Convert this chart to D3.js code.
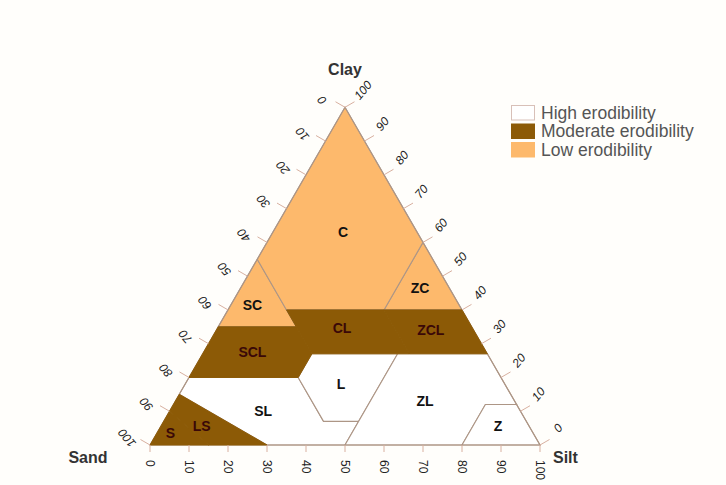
<!DOCTYPE html>
<html>
<head>
<meta charset="utf-8">
<script src="https://cdn.jsdelivr.net/npm/d3@7"></script>
<style>
  html, body { margin: 0; padding: 0; background: #fffefb; }
  svg { display: block; }
  text { font-family: "Liberation Sans", Arial, sans-serif; }
</style>
</head>
<body>
<svg id="chart" width="726" height="485"></svg>
<script>
// ---- data: USDA texture classes, vertices as [sand, silt, clay] (%)
const classNames = ["S", "LS", "SL", "L", "ZL", "Z", "SCL", "CL", "ZCL", "SC", "ZC", "C"];
const classErodibility = ["Moderate", "Moderate", "High", "High", "High", "High",
                          "Moderate", "Moderate", "Moderate", "Low", "Low", "Low"];
const classVertices = [
  [[100,0,0],[85,15,0],[90,0,10]],
  [[85,15,0],[70,30,0],[85,0,15],[90,0,10]],
  [[70,30,0],[50,50,0],[43,50,7],[52,41,7],[52,28,20],[80,0,20],[85,0,15]],
  [[43,50,7],[23,50,27],[45,28,27],[52,28,20],[52,41,7]],
  [[50,50,0],[20,80,0],[8,80,12],[0,88,12],[0,73,27],[23,50,27]],
  [[20,80,0],[0,100,0],[0,88,12],[8,80,12]],
  [[80,0,20],[52,28,20],[45,28,27],[45,20,35],[65,0,35]],
  [[45,28,27],[20,53,27],[20,40,40],[45,15,40]],
  [[20,53,27],[0,73,27],[0,60,40],[20,40,40]],
  [[65,0,35],[45,20,35],[45,0,55]],
  [[20,40,40],[0,60,40],[0,40,60]],
  [[45,0,55],[45,15,40],[20,40,40],[0,40,60],[0,0,100]]
];
// label anchor per class, [sand, silt, clay]
const classLabelPoints = [
  [93,3.5,3.5],[84,10.5,5.5],[66,24,10],[42,40,18],[23,64,13],[8,86.5,5.5],
  [60,12.5,27.5],[33.5,32,34.5],[11,55,34],[53,5.5,41.5],[7.5,46,46.5],[19,18,63]
];
const legendLabels = ["High erodibility", "Moderate erodibility", "Low erodibility"];
const legendKeys = ["High", "Moderate", "Low"];
const tickValues = [0,10,20,30,40,50,60,70,80,90,100];
const cornerLabels = ["Sand", "Silt", "Clay"];

// ---- styles
const fillColor = { High: "#ffffff", Moderate: "#8c5a06", Low: "#fdb96c" };
const lineColor = "#ad9686";
const tickColor = "#d8b0a0";

const svg = d3.select("#chart");

// scales: horizontal position from (silt + clay/2), vertical from clay
const xScale = d3.scaleLinear().domain([0, 100]).range([150, 540]);
const yScale = d3.scaleLinear().domain([0, 100]).range([445, 107.25]);
const px = p => xScale(p[1] + p[2] / 2);
const py = p => yScale(p[2]);
const line = d3.line().x(px).y(py).curve(d3.curveLinearClosed);

const classes = classNames.map((n, i) => ({
  name: n, erod: classErodibility[i], pts: classVertices[i], lab: classLabelPoints[i]
}));

// white and low regions with visible boundaries
svg.append("g").selectAll("path")
  .data(classes.filter(c => c.erod !== "Moderate"))
  .join("path")
  .attr("d", c => line(c.pts))
  .attr("fill", c => fillColor[c.erod])
  .attr("stroke", lineColor)
  .attr("stroke-width", 1.1);

// triangle outline
svg.append("path")
  .attr("d", line([[100,0,0],[0,100,0],[0,0,100]]))
  .attr("fill", "none")
  .attr("stroke", lineColor)
  .attr("stroke-width", 1.1);

// moderate regions (merged look)
svg.append("g").selectAll("path")
  .data(classes.filter(c => c.erod === "Moderate"))
  .join("path")
  .attr("d", c => line(c.pts))
  .attr("fill", fillColor.Moderate)
  .attr("stroke", fillColor.Moderate)
  .attr("stroke-width", 1);

// class labels
svg.append("g").selectAll("text")
  .data(classes)
  .join("text")
  .attr("x", c => px(c.lab))
  .attr("y", c => py(c.lab))
  .attr("text-anchor", "middle")
  .attr("dominant-baseline", "central")
  .attr("font-size", "14px")
  .attr("font-weight", "bold")
  .attr("fill", c => c.erod === "Moderate" ? "#3a0808" : "#111")
  .text(c => c.name);

// ---- axes
const axes = svg.append("g");
// bottom: silt
tickValues.forEach(v => {
  const p = [100 - v, v, 0];
  const x = px(p), y = py(p);
  axes.append("line").attr("x1", x).attr("y1", y).attr("x2", x).attr("y2", y + 7)
    .attr("stroke", tickColor);
  axes.append("text")
    .attr("transform", `translate(${x},${y + 15}) rotate(90)`)
    .attr("text-anchor", "start").attr("dominant-baseline", "central")
    .attr("font-size", "12px").attr("fill", "#222")
    .text(v);
});
// left: sand (0 at apex)
tickValues.forEach(v => {
  const p = [v, 0, 100 - v];
  const x = px(p), y = py(p);
  axes.append("line").attr("x1", x).attr("y1", y).attr("x2", x - 9.5).attr("y2", y - 5.5)
    .attr("stroke", tickColor);
  axes.append("text")
    .attr("transform", `translate(${x - 23},${y - 7}) rotate(-130)`)
    .attr("text-anchor", "middle").attr("dominant-baseline", "central")
    .attr("font-size", "12px").attr("font-style", "italic").attr("fill", "#222")
    .text(v);
});
// right: clay
tickValues.forEach(v => {
  const p = [0, 100 - v, v];
  const x = px(p), y = py(p);
  axes.append("line").attr("x1", x).attr("y1", y).attr("x2", x + 9.5).attr("y2", y - 5.5)
    .attr("stroke", tickColor);
  axes.append("text")
    .attr("transform", `translate(${x + 18},${y - 17}) rotate(-50)`)
    .attr("text-anchor", "middle").attr("dominant-baseline", "central")
    .attr("font-size", "12px").attr("font-style", "italic").attr("fill", "#222")
    .text(v);
});

// corner labels
const corners = [
  { p: [100,0,0], dx: -62, dy: 18, anchor: "middle" },
  { p: [0,100,0], dx: 13, dy: 18, anchor: "start" },
  { p: [0,0,100], dx: 0, dy: -32, anchor: "middle" }
];
svg.append("g").selectAll("text")
  .data(corners)
  .join("text")
  .attr("x", (c) => px(c.p) + c.dx)
  .attr("y", (c) => py(c.p) + c.dy)
  .attr("text-anchor", c => c.anchor)
  .attr("font-size", "16px").attr("font-weight", "bold").attr("fill", "#333")
  .text((c, i) => cornerLabels[i]);

// legend
const legend = svg.append("g").attr("transform", "translate(511,105)");
legendLabels.forEach((lab, i) => {
  const g = legend.append("g").attr("transform", `translate(0,${i * 18.5})`);
  g.append("rect").attr("x", 0.5).attr("y", 0.5).attr("width", 23).attr("height", 14.5)
    .attr("fill", fillColor[legendKeys[i]])
    .attr("stroke", legendKeys[i] === "High" ? "#d8c0b8" : fillColor[legendKeys[i]]);
  g.append("text").attr("x", 30).attr("y", 13.5)
    .attr("font-size", "17.5px").attr("fill", "#555")
    .text(lab);
});
</script>
</body>
</html>
